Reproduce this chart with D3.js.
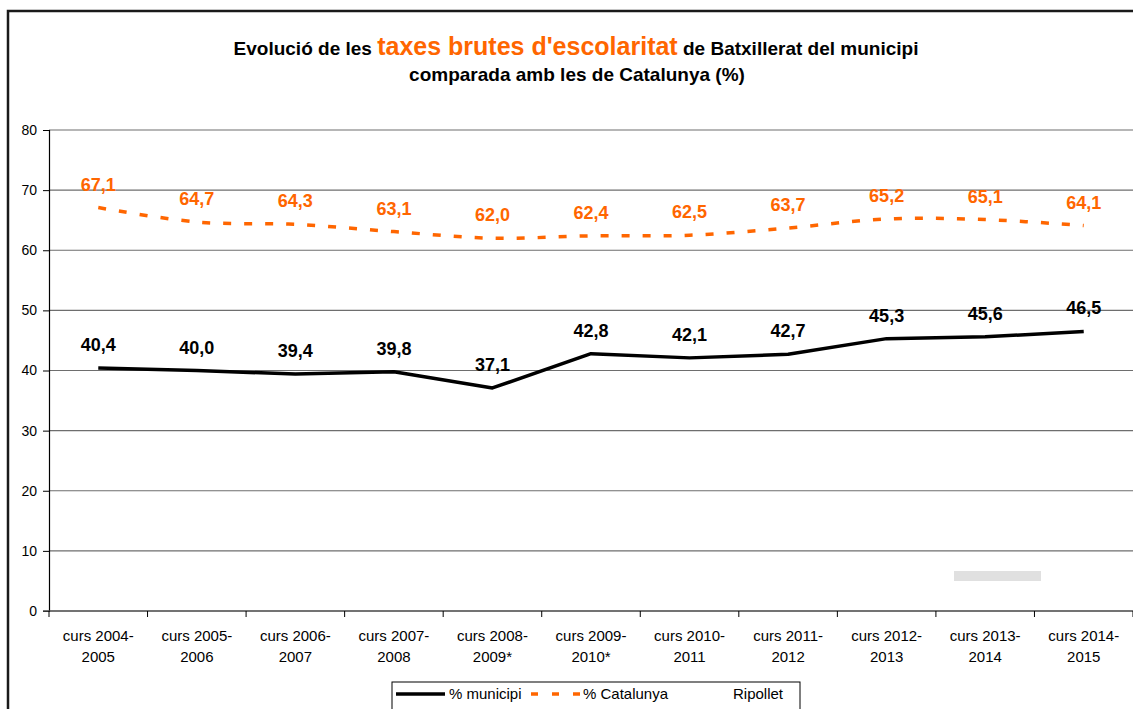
<!DOCTYPE html>
<html>
<head>
<meta charset="utf-8">
<script src="https://cdn.jsdelivr.net/npm/d3@7"></script>
<style>
  body { margin: 0; background: #fff; }
  text { font-family: Arial, "Liberation Sans", sans-serif; }
</style>
</head>
<body>
<div id="chart"></div>
<script>
// data
var cursos = [
  ["curs 2004-", "2005"], ["curs 2005-", "2006"], ["curs 2006-", "2007"],
  ["curs 2007-", "2008"], ["curs 2008-", "2009*"], ["curs 2009-", "2010*"],
  ["curs 2010-", "2011"], ["curs 2011-", "2012"], ["curs 2012-", "2013"],
  ["curs 2013-", "2014"], ["curs 2014-", "2015"]
];
var municipi = [40.4, 40.0, 39.4, 39.8, 37.1, 42.8, 42.1, 42.7, 45.3, 45.6, 46.5];
var catalunya = [67.1, 64.7, 64.3, 63.1, 62.0, 62.4, 62.5, 63.7, 65.2, 65.1, 64.1];
var yTicks = [0, 10, 20, 30, 40, 50, 60, 70, 80];

var svgWidth = 1133;
var svgHeight = 709;
var orange = "#ff6600";

var margin = { top: 130, right: 0, bottom: 98, left: 49 };
var width = svgWidth - margin.left - margin.right;
var height = svgHeight - margin.top - margin.bottom;

var svg = d3.select("#chart")
  .append("svg")
  .attr("width", svgWidth)
  .attr("height", svgHeight);

svg.append("rect")
  .attr("width", svgWidth).attr("height", svgHeight)
  .attr("fill", "#fff");

// outer frame
svg.append("path")
  .attr("d", "M8,712 L8,11 L1140,11")
  .attr("fill", "none")
  .attr("stroke", "#1a1a1a")
  .attr("stroke-width", 2.5);

// title
var title = svg.append("text")
  .attr("x", 576).attr("y", 55)
  .attr("text-anchor", "middle")
  .attr("font-weight", "bold")
  .attr("font-size", "19px");
title.append("tspan").text("Evolució de les ");
title.append("tspan").attr("fill", orange).attr("font-size", "25px").text("taxes brutes d'escolaritat");
title.append("tspan").text(" de Batxillerat del municipi");

svg.append("text")
  .attr("x", 577).attr("y", 81)
  .attr("text-anchor", "middle")
  .attr("font-weight", "bold")
  .attr("font-size", "19px")
  .text("comparada amb les de Catalunya (%)");

var chartGroup = svg.append("g")
  .attr("transform", `translate(${margin.left}, ${margin.top})`);

var xScale = d3.scaleBand()
  .domain(d3.range(cursos.length))
  .range([0, width]);

var yScale = d3.scaleLinear()
  .domain([0, 80])
  .range([height, 0]);

// gridlines
chartGroup.append("g")
  .selectAll("line")
  .data(yTicks.filter(d => d > 0))
  .enter()
  .append("line")
  .attr("x1", 0).attr("x2", width)
  .attr("y1", d => yScale(d)).attr("y2", d => yScale(d))
  .attr("stroke", "#6e6e6e")
  .attr("stroke-width", 1.2);

// axes
var leftAxis = d3.axisLeft(yScale).tickValues(yTicks).tickSize(6).tickPadding(6);
var yAxisG = chartGroup.append("g").call(leftAxis);
yAxisG.select(".domain").attr("stroke", "#000").attr("stroke-width", 1.2);
yAxisG.selectAll(".tick line").attr("stroke", "#000");
yAxisG.selectAll(".tick text")
  .attr("font-size", "14px")
  .attr("font-family", "Arial, 'Liberation Sans', sans-serif")
  .attr("fill", "#000");

var xAxisG = chartGroup.append("g").attr("transform", `translate(0, ${height})`);
xAxisG.append("line")
  .attr("x1", -6).attr("x2", width)
  .attr("stroke", "#444").attr("stroke-width", 1.5);
xAxisG.selectAll("line.tk")
  .data(d3.range(cursos.length + 1))
  .enter()
  .append("line")
  .attr("class", "tk")
  .attr("x1", d => d * xScale.step()).attr("x2", d => d * xScale.step())
  .attr("y1", 0).attr("y2", 6)
  .attr("stroke", "#000");

var xLabels = xAxisG.selectAll("text")
  .data(cursos)
  .enter()
  .append("text")
  .attr("text-anchor", "middle")
  .attr("font-size", "15px")
  .attr("fill", "#000")
  .attr("transform", (d, i) => `translate(${xScale(i) + xScale.bandwidth() / 2}, 30)`);
xLabels.append("tspan").attr("x", 0).attr("y", 0).text(d => d[0]);
xLabels.append("tspan").attr("x", 0).attr("y", 21).text(d => d[1]);

var cx = i => xScale(i) + xScale.bandwidth() / 2;

// lines
var line = d3.line()
  .x((d, i) => cx(i))
  .y(d => yScale(d));

chartGroup.append("path")
  .datum(catalunya)
  .attr("d", line.curve(d3.curveCatmullRom.alpha(0.5)))
  .attr("fill", "none")
  .attr("stroke", orange)
  .attr("stroke-width", 3.5)
  .attr("stroke-dasharray", "8,13");

chartGroup.append("path")
  .datum(municipi)
  .attr("d", d3.line().x((d, i) => cx(i)).y(d => yScale(d)))
  .attr("fill", "none")
  .attr("stroke", "#000")
  .attr("stroke-width", 3.5)
  .attr("stroke-linejoin", "round");

// value labels
var fmt = v => v.toFixed(1).replace(".", ",");

chartGroup.selectAll("text.cat")
  .data(catalunya)
  .enter()
  .append("text")
  .attr("class", "cat")
  .attr("x", (d, i) => cx(i))
  .attr("y", d => yScale(d) - 17)
  .attr("text-anchor", "middle")
  .attr("font-size", "18px")
  .attr("font-weight", "bold")
  .attr("fill", orange)
  .text(fmt);

chartGroup.selectAll("text.mun")
  .data(municipi)
  .enter()
  .append("text")
  .attr("class", "mun")
  .attr("x", (d, i) => cx(i))
  .attr("y", d => yScale(d) - 17)
  .attr("text-anchor", "middle")
  .attr("font-size", "18px")
  .attr("font-weight", "bold")
  .attr("fill", "#000")
  .text(fmt);

// faint watermark logo
chartGroup.append("rect")
  .attr("x", 954 - margin.left).attr("y", 571 - margin.top)
  .attr("width", 87).attr("height", 10)
  .attr("fill", "#e0e0e0");

// legend
var legend = svg.append("g").attr("transform", "translate(392, 682)");
legend.append("rect")
  .attr("width", 408).attr("height", 40)
  .attr("fill", "#fff")
  .attr("stroke", "#000");
legend.append("line")
  .attr("x1", 4).attr("x2", 53).attr("y1", 12).attr("y2", 12)
  .attr("stroke", "#000").attr("stroke-width", 3.5);
legend.append("text").attr("x", 57).attr("y", 17).attr("font-size", "15px").text("% municipi");
legend.append("line")
  .attr("x1", 139).attr("x2", 188).attr("y1", 12).attr("y2", 12)
  .attr("stroke", orange).attr("stroke-width", 3.5)
  .attr("stroke-dasharray", "7,14");
legend.append("text").attr("x", 191).attr("y", 17).attr("font-size", "15px").text("% Catalunya");
legend.append("text").attr("x", 341).attr("y", 17).attr("font-size", "15px").text("Ripollet");
</script>
</body>
</html>
